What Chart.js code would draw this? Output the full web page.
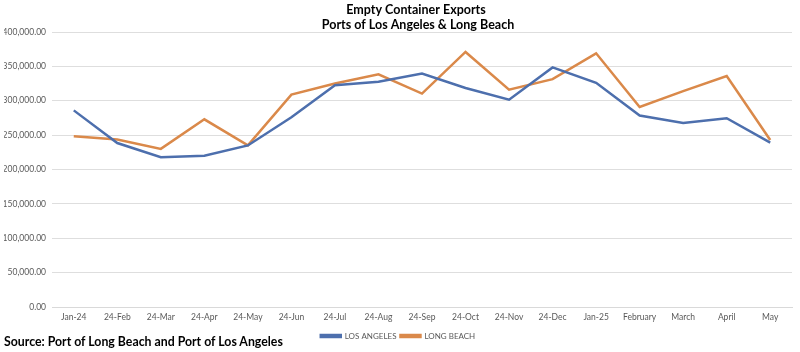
<!DOCTYPE html>
<html>
<head>
<meta charset="utf-8">
<script src="https://cdn.jsdelivr.net/npm/chart.js@4"></script>
<style>
html,body{margin:0;padding:0;background:#fff;}
#wrap{position:relative;width:800px;height:352px;}
#src{position:absolute;left:4px;top:334px;font:bold 12.3px Lato,"Open Sans",sans-serif;color:#000;white-space:nowrap;}
</style>
</head>
<body>
<div id="wrap">
<canvas id="c" width="800" height="352"></canvas>
<div id="src">Source: Port of Long Beach and Port of Los Angeles</div>
</div>
<script>
const categories = ["Jan-24","24-Feb","24-Mar","24-Apr","24-May","24-Jun","24-Jul","24-Aug","24-Sep","24-Oct","24-Nov","24-Dec","Jan-25","February","March","April","May"];
const losAngeles = [286000,238500,218000,220000,235000,276000,322500,327500,339500,318500,301500,348500,326000,278500,267500,274500,239000];
const longBeach = [248500,243500,230000,273000,235000,309000,325000,338500,310500,371000,316000,331500,369000,291000,314000,336000,243000];
const titleLines = ["Empty Container Exports","Ports of Los Angeles & Long Beach"];
const seriesNames = ["LOS ANGELES","LONG BEACH"];

const titlePlugin = {
  id:'titleLines',
  afterDraw(chart){
    const ctx = chart.ctx;
    ctx.save();
    ctx.font = 'bold 12.5px Lato, "Open Sans", sans-serif';
    ctx.fillStyle = '#000';
    ctx.textAlign = 'center';
    ctx.textBaseline = 'middle';
    ctx.fillText(titleLines[0], 416, 10);
    ctx.fillText(titleLines[1], 418, 25);
    ctx.restore();
  }
};

new Chart(document.getElementById('c'), {
  type:'line',
  data:{
    labels:categories,
    datasets:[
      {label:seriesNames[0], data:losAngeles, borderColor:'#4d6fad', backgroundColor:'#4d6fad', borderWidth:2.5, pointRadius:0, tension:0},
      {label:seriesNames[1], data:longBeach, borderColor:'#da894a', backgroundColor:'#da894a', borderWidth:2.5, pointRadius:0, tension:0}
    ]
  },
  options:{
    responsive:false,
    animation:false,
    layout:{padding:{top:32,left:4,right:8,bottom:2}},
    plugins:{
      title:{display:false},
      tooltip:{enabled:false},
      legend:{
        position:'bottom',
        labels:{
          boxWidth:20, boxHeight:2, padding:4,
          color:'#595959',
          font:{family:'Lato, "Open Sans", sans-serif', size:8}
        }
      }
    },
    scales:{
      x:{
        offset:true,
        afterFit(scale){ scale.height = 21; },
        grid:{display:false, drawTicks:false},
        border:{display:true,color:'#d9d9d9'},
        ticks:{color:'#595959', font:{family:'Lato, "Open Sans", sans-serif', size:8.5}, maxRotation:0, autoSkip:false, padding:5}
      },
      y:{
        min:0, max:400000,
        afterFit(scale){ scale.width = 48; },
        grid:{color:'#dedede', drawTicks:false},
        border:{display:false},
        ticks:{
          stepSize:50000, padding:6,
          color:'#595959', font:{family:'Lato, "Open Sans", sans-serif', size:8.5},
          callback:v=>v.toLocaleString('en-US',{minimumFractionDigits:2,maximumFractionDigits:2})
        }
      }
    }
  },
  plugins:[titlePlugin]
});
</script>
</body>
</html>
